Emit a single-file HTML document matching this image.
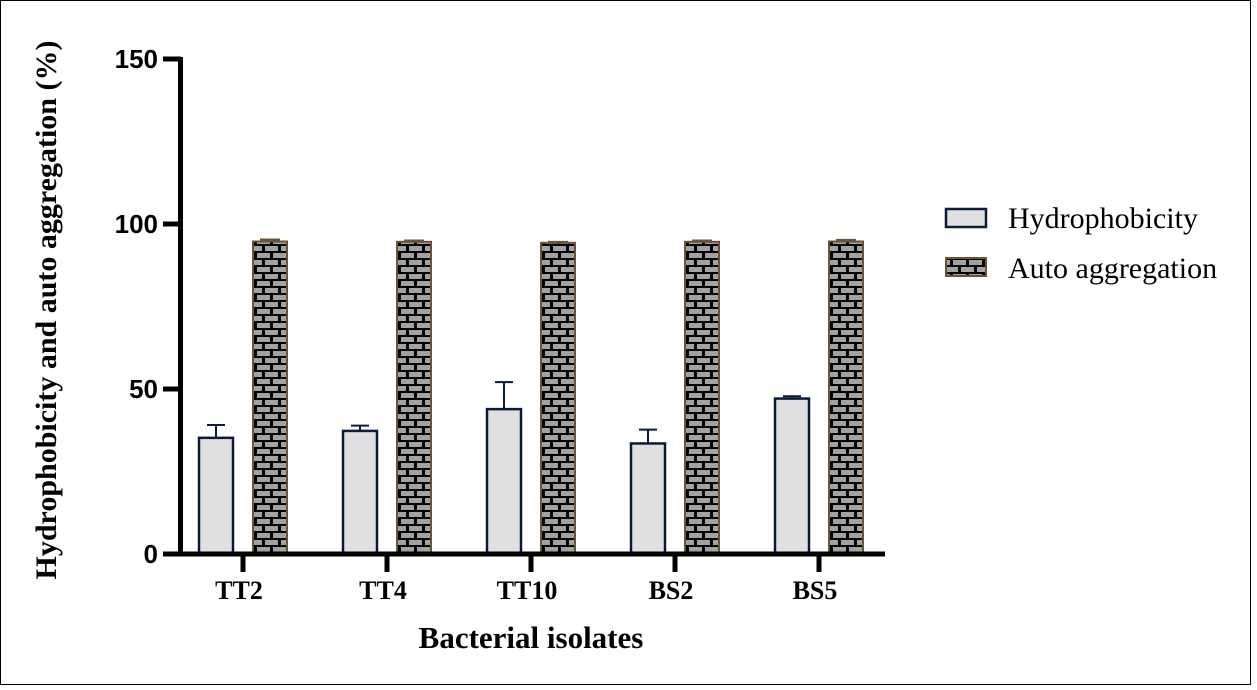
<!DOCTYPE html>
<html><head><meta charset="utf-8"><style>
html,body{margin:0;padding:0;background:#fff}
svg{display:block}
text{font-family:"Liberation Serif",serif}
</style></head><body>
<svg id="chart" width="1257" height="690" xmlns="http://www.w3.org/2000/svg">
<defs>
<pattern id="brick" patternUnits="userSpaceOnUse" width="16" height="14" x="0" y="0">
<rect width="16" height="14" fill="#000"/>
<rect x="1" y="1" width="13" height="5" fill="#a2a2a2"/>
<rect x="-7" y="8" width="13" height="5" fill="#a2a2a2"/>
<rect x="9" y="8" width="13" height="5" fill="#a2a2a2"/>
</pattern>
</defs>
<rect x="0.5" y="0.5" width="1250" height="684" fill="#fff" stroke="#000" stroke-width="1"/>
<g id="plot"></g>
<text x="0" y="0" transform="translate(56,310) rotate(-90)" text-anchor="middle" font-size="30" font-weight="bold">Hydrophobicity and auto aggregation (%)</text>
<text x="531" y="648" text-anchor="middle" font-size="31" font-weight="bold">Bacterial isolates</text>
<g>
<rect x="946" y="209" width="40" height="18" fill="#e0e0e0" stroke="#0a1a38" stroke-width="2.5"/>
<text x="1008" y="228" font-size="30">Hydrophobicity</text>
<rect x="946" y="258" width="40" height="18" fill="url(#brick)" stroke="#6b5535" stroke-width="2"/>
<text x="1008" y="278" font-size="30">Auto aggregation</text>
</g>
</svg>
<script>
const categories=["TT2","TT4","TT10","BS2","BS5"];
const hydro=[35.2,37.3,43.9,33.5,47.1];
const hydroErr=[3.9,1.6,8.2,4.2,0.7];
const auto=[94.7,94.6,94.3,94.6,94.7];
const autoErr=[0.6,0.4,0.3,0.4,0.5];
const yTicks=[0,50,100,150];
const NS="http://www.w3.org/2000/svg";
const g=document.getElementById('plot');
const y0=554,y1=59,yMax=150;
function y(v){return y0-(v/yMax)*(y0-y1);}
function x(i){return 243+i*144;}
function mk(t,a){const e=document.createElementNS(NS,t);for(const k in a)e.setAttribute(k,a[k]);g.appendChild(e);return e;}
categories.forEach((c,i)=>{
  const cx=x(i);
  let e=mk('line',{x1:cx-27,x2:cx-27,y1:y(hydro[i]+hydroErr[i]),y2:y(hydro[i]),stroke:'#0a1a38','stroke-width':2});
  
  
  e=mk('line',{x1:cx-36,x2:cx-18,y1:y(hydro[i]+hydroErr[i]),y2:y(hydro[i]+hydroErr[i]),stroke:'#0a1a38','stroke-width':2});
  
  
  e=mk('rect',{x:cx-44,y:y(hydro[i]),width:34,height:y0-y(hydro[i]),fill:'#e0e0e0',stroke:'#0a1a38','stroke-width':2.5});
  
  
  e=mk('line',{x1:cx+27,x2:cx+27,y1:y(auto[i]+autoErr[i]),y2:y(auto[i]),stroke:'#6b5535','stroke-width':2});
  
  
  e=mk('line',{x1:cx+17,x2:cx+37,y1:y(auto[i]+autoErr[i]),y2:y(auto[i]+autoErr[i]),stroke:'#6b5535','stroke-width':2});
  
  
  e=mk('rect',{x:cx+10,y:y(auto[i]),width:34,height:y0-y(auto[i]),fill:'url(#brick)',stroke:'#6b5535','stroke-width':2});
  
  
  e=mk('line',{x1:cx,x2:cx,y1:y0,y2:y0+18,stroke:'#000','stroke-width':5});
  
  
  e=mk('text',{x:cx-4,y:599,'text-anchor':'middle','font-size':26,'font-weight':'bold'});
  e.textContent=c;
  
  
});
yTicks.forEach(v=>{
  let e=mk('line',{x1:163,x2:181,y1:y(v),y2:y(v),stroke:'#000','stroke-width':5});
  
  
  e=mk('text',{x:158,y:y(v)+9,'text-anchor':'end','font-size':26,'font-weight':'bold',style:'font-family:"Liberation Sans",sans-serif'});
  e.textContent=v;
  
  
});
let ax=mk('line',{x1:180.5,x2:180.5,y1:y1-2,y2:y0+2.5,stroke:'#000','stroke-width':5});


ax=mk('line',{x1:178,x2:885,y1:y0,y2:y0,stroke:'#000','stroke-width':5});


</script>
</body></html>
